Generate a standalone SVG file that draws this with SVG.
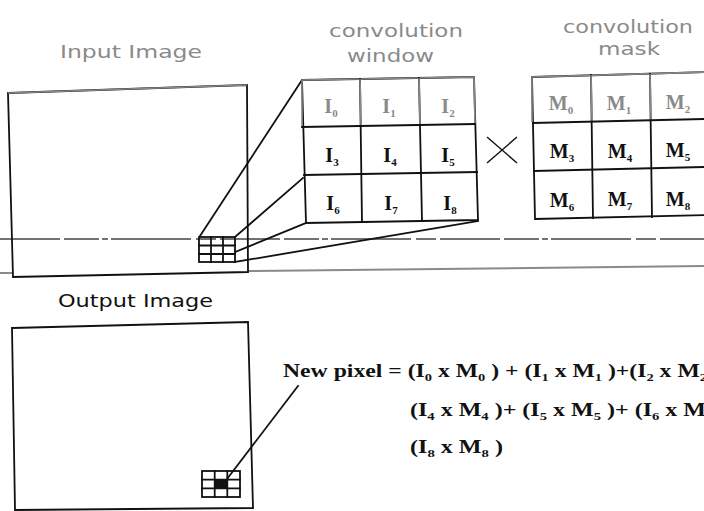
<svg xmlns="http://www.w3.org/2000/svg" width="704" height="511" viewBox="0 0 704 511">
<style>
.lbl{font-family:"DejaVu Sans","Liberation Sans",sans-serif;font-size:18px;fill:#8a8a8a}
.lbl2{font-family:"DejaVu Sans","Liberation Sans",sans-serif;font-size:18px;fill:#111}
.cell{font-family:"Liberation Serif","Times New Roman",serif;font-weight:bold;font-size:20px;fill:#111;text-anchor:middle}
.cellg{fill:#8a8a8a}
.eq{font-family:"Liberation Serif","Times New Roman",serif;font-weight:bold;font-size:18px;fill:#111}
.sub{font-size:11px}
.ln{stroke:#111;stroke-width:1.8;fill:none;stroke-linecap:square}
.lng{stroke:#888;stroke-width:1.6;fill:none}
.thin{stroke:#111;stroke-width:1.4;fill:none}
</style>
<rect width="704" height="511" fill="#fff"/>

<g id="guides">
<line x1="0" y1="239" x2="704" y2="239" stroke="#444" stroke-width="1.3" stroke-dasharray="60 4 35 3 6 3 80 5 20 4"/>
<line x1="248" y1="271" x2="704" y2="266" stroke="#8a8a8a" stroke-width="2"/>
<line x1="0" y1="273" x2="12" y2="273" stroke="#8a8a8a" stroke-width="2"/>
</g>

<g id="input-image">
<polygon points="8,93 247,85 248,272 13,277" class="ln"/>
<line x1="8" y1="93" x2="247" y2="85" class="lng"/>
<text class="lbl" x="60" y="58" textLength="142" lengthAdjust="spacingAndGlyphs">Input Image</text>
</g>

<g id="input-grid">
<rect x="199" y="237" width="36" height="25" fill="#fff" class="ln"/>
<line x1="211" y1="237" x2="211" y2="262" class="ln"/>
<line x1="223" y1="237" x2="223" y2="262" class="ln"/>
<line x1="199" y1="245.5" x2="235" y2="245.5" class="ln"/>
<line x1="199" y1="254" x2="235" y2="254" class="ln"/>
</g>

<g id="connectors">
<line x1="200" y1="236" x2="302" y2="80" class="ln"/>
<line x1="235" y1="237" x2="303" y2="178" class="ln"/>
<line x1="235" y1="252" x2="306" y2="223" class="ln"/>
<line x1="235" y1="262" x2="478" y2="221" class="ln"/>
<line x1="227" y1="479" x2="298" y2="386" class="ln"/>
</g>

<g id="convolution-window">
<text class="lbl" x="329" y="37" textLength="134" lengthAdjust="spacingAndGlyphs">convolution</text>
<text class="lbl" x="347" y="62" textLength="87" lengthAdjust="spacingAndGlyphs">window</text>
<polygon points="302,80 474,77 478,220 306,223" fill="#fff" class="ln"/>
<polyline points="302,126 302,80 474,77 475,124" class="lng"/>
<line x1="360" y1="79" x2="362" y2="222" class="ln"/>
<line x1="419" y1="78" x2="422" y2="221" class="ln"/>
<line x1="360" y1="79" x2="361" y2="125" class="lng"/>
<line x1="419" y1="78" x2="420" y2="124" class="lng"/>
<line x1="302" y1="127" x2="475" y2="124" class="ln"/>
<line x1="304" y1="175" x2="477" y2="172" class="ln"/>
<text class="cell cellg" x="331" y="113">I<tspan class="sub" dy="4">0</tspan></text>
<text class="cell cellg" x="389" y="113">I<tspan class="sub" dy="4">1</tspan></text>
<text class="cell cellg" x="448" y="113">I<tspan class="sub" dy="4">2</tspan></text>
<text class="cell" x="332" y="162">I<tspan class="sub" dy="4">3</tspan></text>
<text class="cell" x="390" y="162">I<tspan class="sub" dy="4">4</tspan></text>
<text class="cell" x="448" y="162">I<tspan class="sub" dy="4">5</tspan></text>
<text class="cell" x="333" y="210">I<tspan class="sub" dy="4">6</tspan></text>
<text class="cell" x="391" y="210">I<tspan class="sub" dy="4">7</tspan></text>
<text class="cell" x="450" y="210">I<tspan class="sub" dy="4">8</tspan></text>
</g>

<g id="times">
<line x1="487" y1="137" x2="517" y2="163" class="thin"/>
<line x1="487" y1="163" x2="517" y2="137" class="thin"/>
</g>

<g id="convolution-mask">
<text class="lbl" x="563" y="33" textLength="130" lengthAdjust="spacingAndGlyphs">convolution</text>
<text class="lbl" x="598" y="55" textLength="62" lengthAdjust="spacingAndGlyphs">mask</text>
<polygon points="532,77 710,72 710,215 535,219" fill="#fff" class="ln"/>
<polyline points="532,122 532,77 710,72" class="lng"/>
<line x1="591" y1="75" x2="593" y2="218" class="ln"/>
<line x1="650" y1="74" x2="652" y2="217" class="ln"/>
<line x1="591" y1="75" x2="592" y2="121" class="lng"/>
<line x1="650" y1="74" x2="651" y2="120" class="lng"/>
<line x1="533" y1="123" x2="704" y2="119" class="ln"/>
<line x1="534" y1="171" x2="704" y2="167" class="ln"/>
<text class="cell cellg" x="561" y="110">M<tspan class="sub" dy="4">0</tspan></text>
<text class="cell cellg" x="619" y="110">M<tspan class="sub" dy="4">1</tspan></text>
<text class="cell cellg" x="678" y="109">M<tspan class="sub" dy="4">2</tspan></text>
<text class="cell" x="562" y="158">M<tspan class="sub" dy="4">3</tspan></text>
<text class="cell" x="620" y="158">M<tspan class="sub" dy="4">4</tspan></text>
<text class="cell" x="678" y="157">M<tspan class="sub" dy="4">5</tspan></text>
<text class="cell" x="562" y="207">M<tspan class="sub" dy="4">6</tspan></text>
<text class="cell" x="620" y="206">M<tspan class="sub" dy="4">7</tspan></text>
<text class="cell" x="678" y="206">M<tspan class="sub" dy="4">8</tspan></text>
</g>

<g id="output-image">
<text class="lbl2" x="58" y="307" textLength="155" lengthAdjust="spacingAndGlyphs">Output Image</text>
<polygon points="12,328 248,322 253,508 15,510" fill="#fff" class="ln"/>
</g>

<g id="output-grid">
<rect x="214.7" y="479.7" width="12.6" height="8.6" fill="#111"/>
<rect x="202" y="471" width="38" height="26" class="ln"/>
<line x1="214.7" y1="471" x2="214.7" y2="497" class="ln"/>
<line x1="227.3" y1="471" x2="227.3" y2="497" class="ln"/>
<line x1="202" y1="479.7" x2="240" y2="479.7" class="ln"/>
<line x1="202" y1="488.3" x2="240" y2="488.3" class="ln"/>
</g>

<g id="equation">
<text class="eq" x="283" y="377" textLength="424" lengthAdjust="spacingAndGlyphs">New pixel = (I<tspan class="sub" dy="4">0</tspan><tspan dy="-4"> x M</tspan><tspan class="sub" dy="4">0</tspan><tspan dy="-4"> ) + (I</tspan><tspan class="sub" dy="4">1</tspan><tspan dy="-4"> x M</tspan><tspan class="sub" dy="4">1</tspan><tspan dy="-4"> )+(I</tspan><tspan class="sub" dy="4">2</tspan><tspan dy="-4"> x M</tspan><tspan class="sub" dy="4">2</tspan></text>
<text class="eq" x="410" y="416" textLength="296" lengthAdjust="spacingAndGlyphs">(I<tspan class="sub" dy="4">4</tspan><tspan dy="-4"> x M</tspan><tspan class="sub" dy="4">4</tspan><tspan dy="-4"> )+ (I</tspan><tspan class="sub" dy="4">5</tspan><tspan dy="-4"> x M</tspan><tspan class="sub" dy="4">5</tspan><tspan dy="-4"> )+ (I</tspan><tspan class="sub" dy="4">6</tspan><tspan dy="-4"> x M</tspan></text>
<text class="eq" x="410" y="453" textLength="93" lengthAdjust="spacingAndGlyphs">(I<tspan class="sub" dy="4">8</tspan><tspan dy="-4"> x M</tspan><tspan class="sub" dy="4">8</tspan><tspan dy="-4"> )</tspan></text>
</g>
</svg>
